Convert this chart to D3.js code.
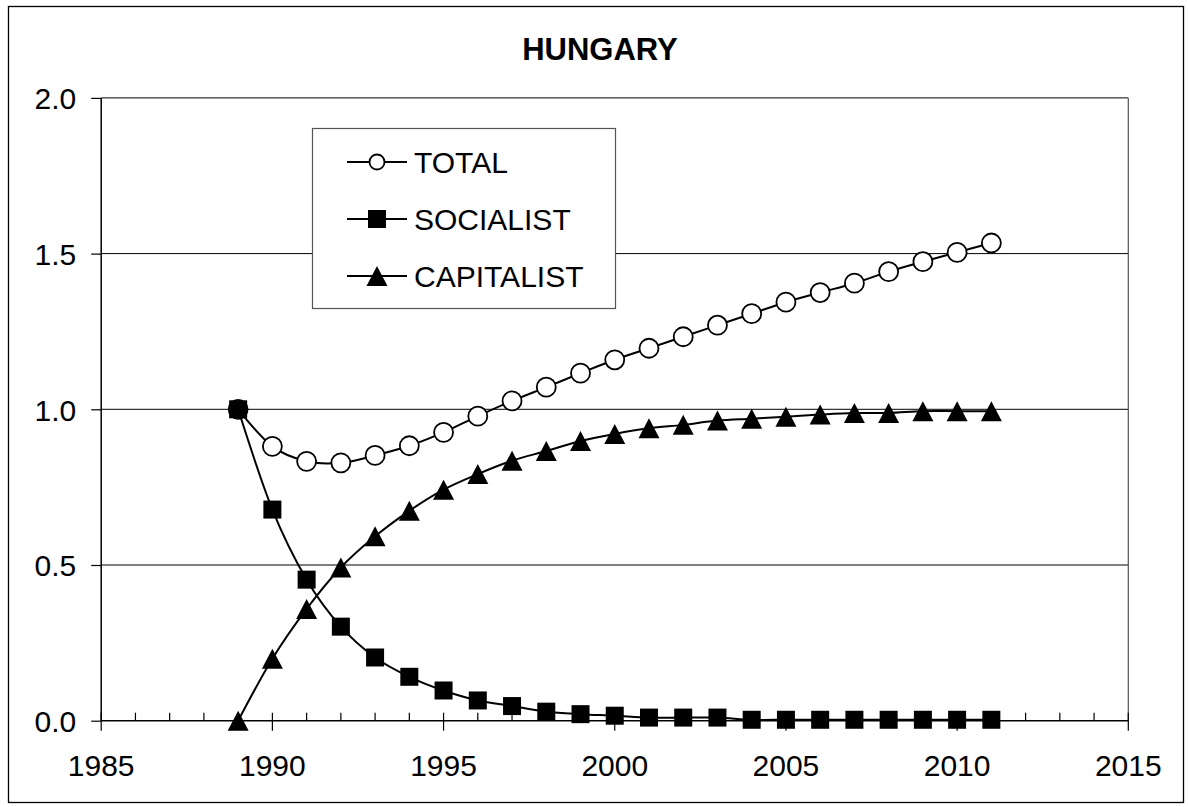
<!DOCTYPE html>
<html>
<head>
<meta charset="utf-8">
<script src="https://cdn.jsdelivr.net/npm/d3@7"></script>
<style>
  html, body { margin: 0; padding: 0; background: #fff; }
  svg { display: block; }
  text { font-family: "Liberation Sans", Arial, sans-serif; fill: #000; }
</style>
</head>
<body>
<svg id="chart" width="1188" height="807"></svg>
<script>
const title = "HUNGARY";
const years = [1989,1990,1991,1992,1993,1994,1995,1996,1997,1998,1999,2000,2001,2002,2003,2004,2005,2006,2007,2008,2009,2010,2011];
const total = [1.000,0.881,0.833,0.828,0.852,0.883,0.926,0.978,1.027,1.071,1.116,1.159,1.196,1.233,1.270,1.307,1.344,1.375,1.405,1.442,1.474,1.504,1.534];
const socialist = [1.000,0.678,0.453,0.302,0.203,0.141,0.097,0.065,0.047,0.029,0.021,0.016,0.010,0.010,0.010,0.003,0.003,0.003,0.003,0.003,0.003,0.003,0.003];
const capitalist = [0.000,0.199,0.359,0.492,0.592,0.674,0.742,0.792,0.835,0.866,0.898,0.921,0.939,0.950,0.964,0.970,0.976,0.983,0.988,0.988,0.994,0.994,0.994];
const seriesNames = ["TOTAL","SOCIALIST","CAPITALIST"];
const xTicks = [1985,1990,1995,2000,2005,2010,2015];
const yTicks = [0.0,0.5,1.0,1.5,2.0];

const svg = d3.select("#chart");
const L = 101.2, R = 1128.3, T = 97.9, B = 720.7;
const x = d3.scaleLinear().domain([1985,2015]).range([L,R]);
const y = d3.scaleLinear().domain([0,2]).range([B,T]);

// outer frame
svg.append("rect").attr("x",8.5).attr("y",6.5).attr("width",1175).attr("height",796)
  .attr("fill","none").attr("stroke","#000").attr("stroke-width",1.3);

// title
svg.append("text").attr("x",600).attr("y",60).attr("text-anchor","middle")
  .attr("font-size",31).attr("font-weight","bold").text(title);

// gridlines
svg.append("g").selectAll("line").data(yTicks.filter(d=>d>0)).join("line")
  .attr("x1",L).attr("x2",R).attr("y1",d=>y(d)).attr("y2",d=>y(d))
  .attr("stroke","#000").attr("stroke-width",1);

// plot right border
svg.append("line").attr("x1",R).attr("x2",R).attr("y1",T).attr("y2",B)
  .attr("stroke","#555").attr("stroke-width",1.2);

// y axis
const yAxis = svg.append("g").attr("transform",`translate(${L},0)`)
  .call(d3.axisLeft(y).tickValues(yTicks).tickFormat(d3.format(".1f")).tickSize(10).tickPadding(15));
yAxis.select(".domain").attr("stroke","#000").attr("stroke-width",1.5).attr("d",`M0,${T}V${B}`);
yAxis.selectAll(".tick line").attr("stroke","#000").attr("stroke-width",1.2);
yAxis.selectAll(".tick text").attr("font-size",30).attr("font-family","Liberation Sans, Arial, sans-serif")
  .attr("dy","0.36em").attr("fill","#000");

// x axis minor ticks (every year, inward)
const minorYears = d3.range(1985,2016).filter(d=>d%5!==0);
svg.append("g").selectAll("line").data(minorYears).join("line")
  .attr("x1",d=>x(d)).attr("x2",d=>x(d)).attr("y1",B-8).attr("y2",B)
  .attr("stroke","#000").attr("stroke-width",1.2);
// x axis major ticks crossing
svg.append("g").selectAll("line").data(xTicks).join("line")
  .attr("x1",d=>x(d)).attr("x2",d=>x(d)).attr("y1",B-8).attr("y2",B+10)
  .attr("stroke","#000").attr("stroke-width",1.2);
svg.append("line").attr("x1",L).attr("x2",R).attr("y1",B).attr("y2",B)
  .attr("stroke","#000").attr("stroke-width",1.5);
svg.append("g").selectAll("text").data(xTicks).join("text")
  .attr("x",d=>x(d)).attr("y",776).attr("text-anchor","middle").attr("font-size",30)
  .text(d=>d);

// series
const curve = d3.curveCardinal.tension(0);
const line = d3.line().x(d=>x(d[0])).y(d=>y(d[1])).curve(curve);
const data = [total, socialist, capitalist].map(arr => years.map((yr,i)=>[yr,arr[i]]));

data.forEach(pts => {
  svg.append("path").attr("d",line(pts)).attr("fill","none")
    .attr("stroke","#000").attr("stroke-width",2);
});

function drawMarker(g, type, cx, cy, big) {
  if (type === 0) {
    g.append("circle").attr("cx",cx).attr("cy",cy).attr("r",big?9.5:7.5)
      .attr("fill","#fff").attr("stroke","#000").attr("stroke-width",1.8);
  } else if (type === 1) {
    const s = 18;
    g.append("rect").attr("x",cx-s/2).attr("y",cy-s/2).attr("width",s).attr("height",s)
      .attr("fill","#000");
  } else {
    const w = 21, h = 20;
    g.append("path").attr("d",`M${cx},${cy-h/2}L${cx+w/2},${cy+h/2}L${cx-w/2},${cy+h/2}Z`)
      .attr("fill","#000");
  }
}

const mg = svg.append("g");
[0,1,2].forEach(si => {
  data[si].forEach(p => drawMarker(mg, si, x(p[0]), y(p[1]), true));
});

// legend
const lg = svg.append("g");
lg.append("rect").attr("x",312.5).attr("y",128.5).attr("width",303).attr("height",180)
  .attr("fill","#fff").attr("stroke","#555").attr("stroke-width",1.2);
const legY = [162, 219, 276];
seriesNames.forEach((name,i) => {
  lg.append("line").attr("x1",347).attr("x2",407).attr("y1",legY[i]).attr("y2",legY[i])
    .attr("stroke","#000").attr("stroke-width",2);
  drawMarker(lg, i, 377, legY[i], false);
  lg.append("text").attr("x",414).attr("y",legY[i]+11).attr("font-size",30).text(name);
});
</script>
</body>
</html>
